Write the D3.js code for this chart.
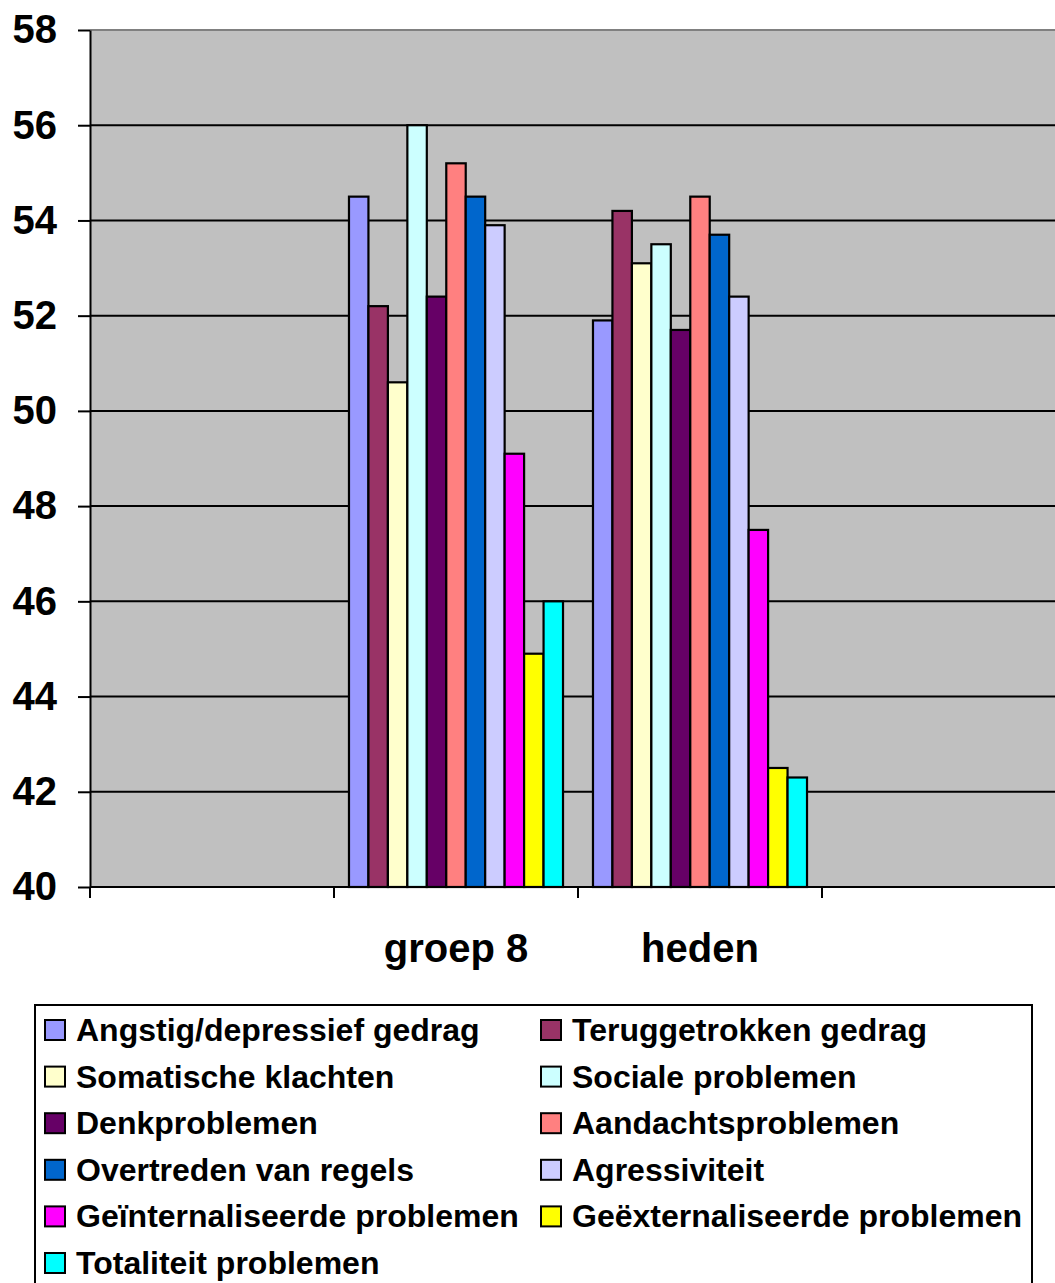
<!DOCTYPE html>
<html>
<head>
<meta charset="utf-8">
<script src="https://cdn.jsdelivr.net/npm/d3@7"></script>
<style>
  html, body { margin: 0; padding: 0; background: #fff; }
  svg { display: block; font-family: "Liberation Sans", Arial, sans-serif; font-weight: bold; }
</style>
</head>
<body>
<svg id="chart" width="1055" height="1283"></svg>
<script>
// Categories on the x axis (outer slots are left empty)
const categories = ["", "groep 8", "heden", ""];

// Scales measured (CBCL / YSR T-scores)
const seriesNames = [
  "Angstig/depressief gedrag",
  "Teruggetrokken gedrag",
  "Somatische klachten",
  "Sociale problemen",
  "Denkproblemen",
  "Aandachtsproblemen",
  "Overtreden van regels",
  "Agressiviteit",
  "Geïnternaliseerde problemen",
  "Geëxternaliseerde problemen",
  "Totaliteit problemen"
];

const seriesColors = [
  "#9999FF", "#993366", "#FFFFCC", "#CCFFFF", "#660066", "#FF8080",
  "#0066CC", "#CCCCFF", "#FF00FF", "#FFFF00", "#00FFFF"
];

// Values per series, one per category slot
const groep8Values = [54.5, 52.2, 50.6, 56.0, 52.4, 55.2, 54.5, 53.9, 49.1, 44.9, 46.0];
const hedenValues  = [51.9, 54.2, 53.1, 53.5, 51.7, 54.5, 53.7, 52.4, 47.5, 42.5, 42.3];

const yTicks = [40, 42, 44, 46, 48, 50, 52, 54, 56, 58];

const valuesByCategory = [null, groep8Values, hedenValues, null];

const svg = d3.select("#chart");

const plot = { left: 90, top: 30, bottom: 887, right: 1066 };

const y = d3.scaleLinear().domain([40, 58]).range([plot.bottom, plot.top]);
const x0 = d3.scaleBand()
  .domain(d3.range(categories.length))
  .range([plot.left, plot.right])
  .paddingInner(0).paddingOuter(0);
const x1 = d3.scaleBand()
  .domain(d3.range(seriesNames.length))
  .range([0, x0.bandwidth()])
  .paddingInner(0).paddingOuter(0.77);

// plot background
svg.append("rect")
  .attr("x", plot.left).attr("y", plot.top)
  .attr("width", plot.right - plot.left).attr("height", plot.bottom - plot.top)
  .attr("fill", "#C0C0C0");

// gridlines
svg.append("g").selectAll("line")
  .data(yTicks.filter(t => t > 40 && t < 58))
  .join("line")
  .attr("x1", plot.left).attr("x2", plot.right)
  .attr("y1", d => y(d)).attr("y2", d => y(d))
  .attr("stroke", "#000").attr("stroke-width", 2);

// top border of plot area
svg.append("line")
  .attr("x1", plot.left).attr("x2", plot.right)
  .attr("y1", y(58)).attr("y2", y(58))
  .attr("stroke", "#808080").attr("stroke-width", 2);

// bars
const groups = svg.append("g").selectAll("g")
  .data(categories.map((c, i) => ({ i, vals: valuesByCategory[i] })).filter(d => d.vals))
  .join("g")
  .attr("transform", d => `translate(${x0(d.i)},0)`);

groups.selectAll("rect")
  .data(d => d.vals.map((v, s) => ({ v, s })))
  .join("rect")
  .attr("x", d => x1(d.s))
  .attr("width", x1.bandwidth())
  .attr("y", d => y(d.v))
  .attr("height", d => y(40) - y(d.v))
  .attr("fill", d => seriesColors[d.s])
  .attr("stroke", "#000").attr("stroke-width", 2.2);

// y axis
const yAxis = svg.append("g")
  .attr("transform", `translate(${plot.left},0)`)
  .call(d3.axisLeft(y).tickValues(yTicks).tickSize(12).tickSizeOuter(0).tickPadding(21).tickFormat(d3.format("d")));
yAxis.select(".domain").attr("stroke", "#000").attr("stroke-width", 2);
yAxis.selectAll(".tick line").attr("stroke", "#000").attr("stroke-width", 2);
yAxis.selectAll(".tick text")
  .attr("font-size", 40).attr("font-weight", "bold").attr("fill", "#000")
  .attr("font-family", "'Liberation Sans', Arial, sans-serif");

// x axis: ticks at category boundaries, labels centred in bands
const xAxis = svg.append("g")
  .attr("transform", `translate(0,${plot.bottom})`);
xAxis.append("line")
  .attr("x1", plot.left).attr("x2", plot.right)
  .attr("stroke", "#000").attr("stroke-width", 2);
xAxis.selectAll("line.tk")
  .data(d3.range(categories.length + 1))
  .join("line")
  .attr("class", "tk")
  .attr("x1", i => plot.left + i * x0.step()).attr("x2", i => plot.left + i * x0.step())
  .attr("y1", 0).attr("y2", 11)
  .attr("stroke", "#000").attr("stroke-width", 2);
xAxis.selectAll("text")
  .data(categories.map((c, i) => ({ c, i })).filter(d => d.c))
  .join("text")
  .attr("x", d => x0(d.i) + x0.bandwidth() / 2)
  .attr("y", 75)
  .attr("text-anchor", "middle")
  .attr("font-size", 40).attr("font-weight", "bold")
  .text(d => d.c);

// legend
const legend = svg.append("g");
legend.append("rect")
  .attr("x", 35).attr("y", 1005).attr("width", 997).attr("height", 300)
  .attr("fill", "#fff").attr("stroke", "#000").attr("stroke-width", 2);

const colX = [45, 541];
const rowY0 = 1030, rowStep = 46.6;
const items = legend.selectAll("g.item")
  .data(seriesNames.map((n, i) => ({ n, i })))
  .join("g")
  .attr("class", "item")
  .attr("transform", d => `translate(${colX[d.i % 2]},${rowY0 + Math.floor(d.i / 2) * rowStep})`);
items.append("rect")
  .attr("x", 0).attr("y", -10).attr("width", 20).attr("height", 20)
  .attr("fill", d => seriesColors[d.i])
  .attr("stroke", "#000").attr("stroke-width", 2);
items.append("text")
  .attr("x", 31).attr("y", 11)
  .attr("font-size", 32).attr("font-weight", "bold")
  .text(d => d.n);
</script>
</body>
</html>
